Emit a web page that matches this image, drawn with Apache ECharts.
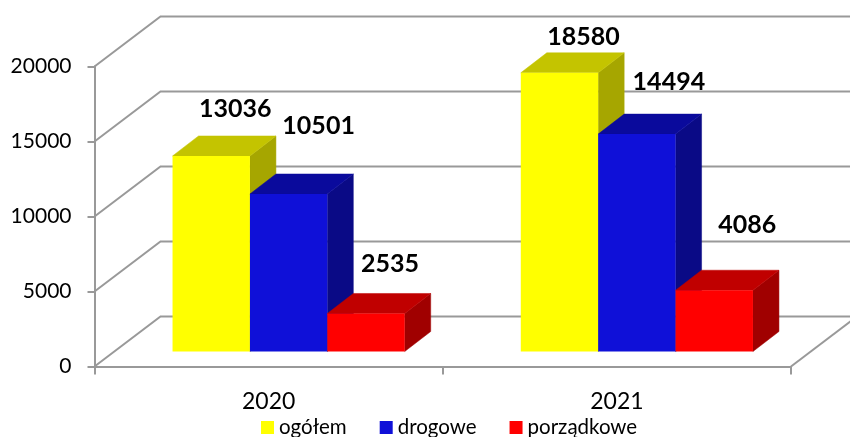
<!DOCTYPE html>
<html>
<head>
<meta charset="utf-8">
<style>
    html, body { margin: 0; padding: 0; background: #fff; }
    #chart { width: 850px; height: 437px; }
</style>
<script src="https://cdn.jsdelivr.net/npm/echarts@6/dist/echarts.min.js"></script>
</head>
<body>
<div id="chart"></div>
<script>
var categories = ["2020", "2021"];
var ogolem = [13036, 18580];
var drogowe = [10501, 14494];
var porzadkowe = [2535, 4086];
var yTicks = [0, 5000, 10000, 15000, 20000];

// fake 3d, all offsets in px
var wallDx = 66, wallDy = -50;
var barShiftX = 20, barShiftY = -15;
var barDx = 26, barDy = -20;
var font = "Lato, 'Open Sans', sans-serif";
var lineColor = "#999999";

// hand placed labels in the original: [dx, dy] from the front top centre of the bar
var shiftOgolem = [[24, -47], [24, -36]];
var shiftDrogowe = [[30, -68], [32, -52]];
var shiftPorzadkowe = [[24, -50], [33, -65]];

function toPairs(values) {
    return values.map(function (v, i) { return [i, v]; });
}

function renderWall(params, api) {
    var sys = params.coordSys;
    var p = api.coord([0, api.value(0)]);
    var y = p[1];
    var left = sys.x;
    var right = sys.x + sys.width;
    var points = [[left, y], [left + wallDx, y + wallDy], [right + wallDx, y + wallDy]];
    var children = [{
        type: "polyline",
        shape: { points: points },
        style: { stroke: lineColor, lineWidth: 2, fill: null }
    }];
    if (params.dataIndex === 0) {
        children.push({
            type: "line",
            shape: { x1: right, y1: y, x2: right + wallDx, y2: y + wallDy },
            style: { stroke: lineColor, lineWidth: 2 }
        });
    }
    return { type: "group", children: children };
}

function barRenderer(slot, colors, shifts) {
    return function (params, api) {
        var cat = api.value(0);
        var val = api.value(1);
        var base = api.coord([cat, 0]);
        var top = api.coord([cat, val]);
        var w = api.size([1, 0])[0] / 4.5;
        var x0 = base[0] - 1.5 * w + slot * w + barShiftX;
        var x1 = x0 + w;
        var yb = base[1] + barShiftY;
        var yt = top[1] + barShiftY;
        var s = shifts[params.dataIndex];
        return {
            type: "group",
            children: [
                {
                    type: "polygon",
                    shape: { points: [[x1, yb], [x1 + barDx, yb + barDy], [x1 + barDx, yt + barDy], [x1, yt]] },
                    style: { fill: colors[2], stroke: colors[2], lineWidth: 0.5 }
                },
                {
                    type: "polygon",
                    shape: { points: [[x0, yt], [x0 + barDx, yt + barDy], [x1 + barDx, yt + barDy], [x1, yt]] },
                    style: { fill: colors[1], stroke: colors[1], lineWidth: 0.5 }
                },
                {
                    type: "rect",
                    shape: { x: x0, y: yt, width: w, height: yb - yt },
                    style: { fill: colors[0] }
                },
                {
                    type: "text",
                    z2: 10,
                    style: {
                        text: String(val),
                        x: (x0 + x1) / 2 + s[0],
                        y: yt + s[1],
                        fill: "#000",
                        font: "bold 25px " + font,
                        textAlign: "center",
                        textVerticalAlign: "middle"
                    }
                }
            ]
        };
    };
}

var myChart = echarts.init(document.getElementById("chart"));
myChart.setOption({
    animation: false,
    grid: { left: 94.5, top: 66.5, width: 696.5, height: 300 },
    legend: {
        left: 261,
        top: 417,
        icon: "rect",
        itemWidth: 13,
        itemHeight: 13,
        itemGap: 33,
        padding: 0,
        data: ["ogółem", "drogowe", "porządkowe"],
        textStyle: { fontFamily: font, fontSize: 20.5, color: "#000", padding: [1, 0, 0, 0] }
    },
    xAxis: {
        type: "category",
        data: categories,
        axisLine: { lineStyle: { color: lineColor, width: 2 } },
        axisTick: { show: true, alignWithLabel: false, length: 8, lineStyle: { color: lineColor, width: 2 } },
        axisLabel: { color: "#000", fontFamily: font, fontSize: 23, margin: 24 },
        splitLine: { show: false }
    },
    yAxis: {
        type: "value",
        min: 0,
        max: 20000,
        interval: 5000,
        axisLine: { show: true, lineStyle: { color: lineColor, width: 2 } },
        axisTick: { show: true, length: 7, lineStyle: { color: lineColor, width: 2 } },
        axisLabel: {
            color: "#000",
            fontFamily: font,
            fontSize: 21,
            margin: 23,
            padding: [3, 0, 0, 0],
            formatter: function (v) { return String(v); }
        },
        splitLine: { show: false }
    },
    series: [
        {
            type: "custom",
            name: "wall",
            renderItem: renderWall,
            data: yTicks.map(function (v) { return [v]; }),
            encode: { y: 0 },
            silent: true,
            z: 1
        },
        {
            type: "custom",
            name: "ogółem",
            itemStyle: { color: "#ffff00" },
            renderItem: barRenderer(0, ["#ffff00", "#c4c400", "#a6a600"], shiftOgolem),
            data: toPairs(ogolem),
            encode: { x: 0, y: 1 },
            z: 2
        },
        {
            type: "custom",
            name: "drogowe",
            itemStyle: { color: "#0f10d8" },
            renderItem: barRenderer(1, ["#0f10d8", "#0a0a9c", "#0a0a86"], shiftDrogowe),
            data: toPairs(drogowe),
            encode: { x: 0, y: 1 },
            z: 3
        },
        {
            type: "custom",
            name: "porządkowe",
            itemStyle: { color: "#ff0000" },
            renderItem: barRenderer(2, ["#ff0000", "#c00000", "#a00000"], shiftPorzadkowe),
            data: toPairs(porzadkowe),
            encode: { x: 0, y: 1 },
            z: 4
        }
    ]
});
</script>
</body>
</html>
